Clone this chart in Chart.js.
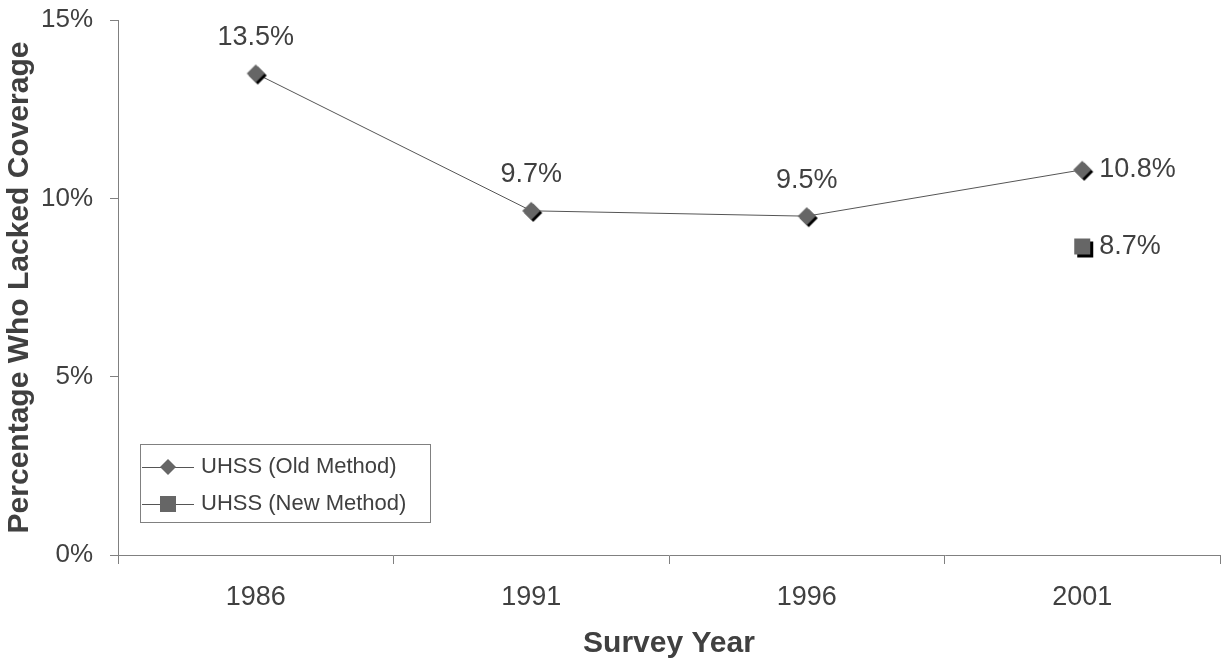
<!DOCTYPE html>
<html lang="en">
<head>
    <meta charset="UTF-8">
    <title>Percentage Who Lacked Coverage</title>
    <script src="https://cdn.jsdelivr.net/npm/chart.js"></script>
    <style>
        body {
            margin: 0;
            padding: 0;
            background-color: white;
        }
        .chart-container {
            width: 1225px;
            height: 663px;
            position: relative;
        }
    </style>
</head>
<body>
    <div class="chart-container">
        <canvas id="coverageChart"></canvas>
    </div>

    <script>
        const years = ['1986', '1991', '1996', '2001'];
        const oldMethod = [13.5, 9.65, 9.5, 10.8];
        const newMethod = [null, null, null, 8.65];
        const oldLabels = ['13.5%', '9.7%', '9.5%', '10.8%'];
        const newLabels = [null, null, null, '8.7%'];
        const yTicks = [0, 5, 10, 15];

        const textColor = '#404040';
        const fontFamily = "'Liberation Sans', Arial, sans-serif";

        // marker images: gray shape with a black drop shadow to the bottom right
        function makeMarker(shape, r, off) {
            const size = 2 * (r + off) + 2;
            const c = document.createElement('canvas');
            c.width = size;
            c.height = size;
            const g = c.getContext('2d');
            const mid = size / 2;
            const draw = (cx, cy, color) => {
                g.fillStyle = color;
                g.beginPath();
                if (shape === 'diamond') {
                    g.moveTo(cx, cy - r);
                    g.lineTo(cx + r, cy);
                    g.lineTo(cx, cy + r);
                    g.lineTo(cx - r, cy);
                    g.closePath();
                } else {
                    g.rect(cx - r, cy - r, 2 * r, 2 * r);
                }
                g.fill();
            };
            draw(mid + off, mid + off, '#000');
            draw(mid, mid, '#666666');
            return c;
        }

        const diamondImg = makeMarker('diamond', 9, 2);
        const squareImg = makeMarker('square', 8, 3);

        // value labels next to the points
        const valueLabels = {
            id: 'valueLabels',
            afterDatasetsDraw(chart) {
                const ctx = chart.ctx;
                ctx.save();
                ctx.font = '27px ' + fontFamily;
                ctx.fillStyle = textColor;
                const sets = [oldLabels, newLabels];
                sets.forEach((labels, di) => {
                    const meta = chart.getDatasetMeta(di);
                    meta.data.forEach((pt, i) => {
                        const txt = labels[i];
                        if (!txt) return;
                        ctx.textBaseline = 'middle';
                        if (i === years.length - 1) {
                            ctx.textAlign = 'left';
                            ctx.fillText(txt, pt.x + 17, pt.y);
                        } else {
                            ctx.textAlign = 'center';
                            ctx.fillText(txt, pt.x, pt.y - 36);
                        }
                    });
                });
                ctx.restore();
            }
        };

        // boxed legend inside the plot area, bottom left
        const boxLegend = {
            id: 'boxLegend',
            afterDraw(chart) {
                const ctx = chart.ctx;
                const area = chart.chartArea;
                const x = area.left + 22;
                const y = area.bottom - 111;
                const w = 290;
                const h = 78;
                ctx.save();
                ctx.fillStyle = 'white';
                ctx.fillRect(x, y, w, h);
                ctx.strokeStyle = '#808080';
                ctx.lineWidth = 1;
                ctx.strokeRect(x + 0.5, y + 0.5, w, h);
                const items = [
                    { text: 'UHSS (Old Method)', shape: 'diamond' },
                    { text: 'UHSS (New Method)', shape: 'square' }
                ];
                ctx.font = '22px ' + fontFamily;
                ctx.textBaseline = 'middle';
                ctx.textAlign = 'left';
                items.forEach((it, i) => {
                    const cy = y + 23 + i * 37;
                    ctx.strokeStyle = '#555555';
                    ctx.beginPath();
                    ctx.moveTo(x + 2, cy + 0.5);
                    ctx.lineTo(x + 54, cy + 0.5);
                    ctx.stroke();
                    const cx = x + 28;
                    ctx.fillStyle = '#666666';
                    ctx.beginPath();
                    if (it.shape === 'diamond') {
                        ctx.moveTo(cx, cy - 8);
                        ctx.lineTo(cx + 8, cy);
                        ctx.lineTo(cx, cy + 8);
                        ctx.lineTo(cx - 8, cy);
                        ctx.closePath();
                    } else {
                        ctx.rect(cx - 8, cy - 8, 16, 16);
                    }
                    ctx.fill();
                    ctx.fillStyle = textColor;
                    ctx.fillText(it.text, x + 61, cy);
                });
                ctx.restore();
            }
        };

        const ctx = document.getElementById('coverageChart').getContext('2d');

        const chart = new Chart(ctx, {
            type: 'line',
            data: {
                labels: years,
                datasets: [
                    {
                        label: 'UHSS (Old Method)',
                        data: oldMethod,
                        borderColor: '#555555',
                        borderWidth: 1,
                        pointStyle: diamondImg,
                        tension: 0,
                        fill: false
                    },
                    {
                        label: 'UHSS (New Method)',
                        data: newMethod,
                        borderColor: '#555555',
                        borderWidth: 1,
                        showLine: false,
                        pointStyle: squareImg,
                        fill: false
                    }
                ]
            },
            options: {
                responsive: true,
                maintainAspectRatio: false,
                animation: false,
                layout: {
                    padding: { top: 20, right: 5, left: 0, bottom: 0 }
                },
                scales: {
                    x: {
                        type: 'category',
                        offset: true,
                        grid: {
                            offset: true,
                            drawOnChartArea: false,
                            drawTicks: true,
                            tickLength: 9,
                            color: '#808080'
                        },
                        border: { color: '#808080', width: 1 },
                        ticks: {
                            color: textColor,
                            font: { family: fontFamily, size: 27 },
                            padding: 17,
                            maxRotation: 0
                        },
                        title: {
                            display: true,
                            text: 'Survey Year',
                            color: textColor,
                            font: { family: fontFamily, size: 30, weight: 'bold' },
                            padding: { top: 10, bottom: 1 }
                        },
                        afterFit(scale) {
                            scale.height = 108;
                            scale.paddingLeft = 0;
                            scale.paddingRight = 0;
                        }
                    },
                    y: {
                        min: 0,
                        max: 15,
                        afterBuildTicks(scale) {
                            scale.ticks = yTicks.map(v => ({ value: v }));
                        },
                        grid: {
                            drawOnChartArea: false,
                            drawTicks: true,
                            tickLength: 8,
                            color: '#808080'
                        },
                        border: { color: '#808080', width: 1 },
                        ticks: {
                            color: textColor,
                            font: { family: fontFamily, size: 26 },
                            padding: 17,
                            callback: v => v + '%'
                        },
                        title: {
                            display: true,
                            text: 'Percentage Who Lacked Coverage',
                            color: textColor,
                            font: { family: fontFamily, size: 30, weight: 'bold' },
                            padding: { top: 2, bottom: 0 }
                        },
                        afterFit(scale) {
                            scale.width = 118;
                            scale.paddingTop = 0;
                            scale.paddingBottom = 0;
                        }
                    }
                },
                plugins: {
                    legend: { display: false },
                    tooltip: { enabled: false }
                }
            },
            plugins: [valueLabels, boxLegend]
        });
    </script>
</body>
</html>
